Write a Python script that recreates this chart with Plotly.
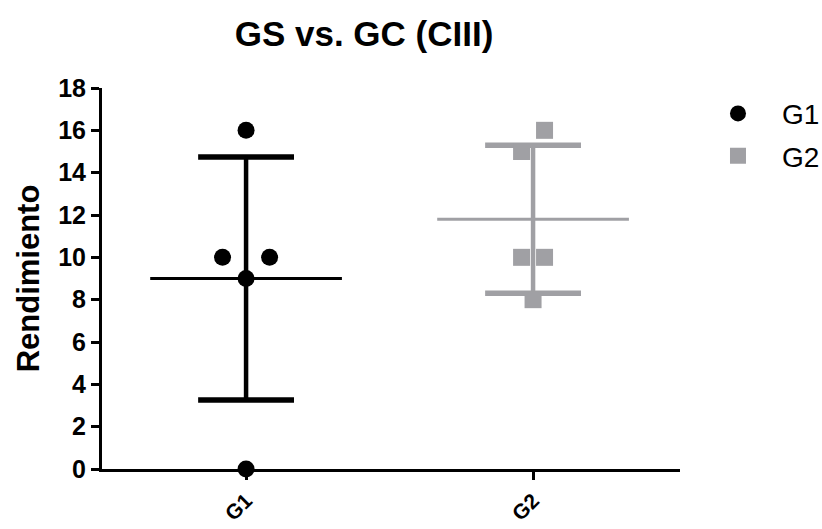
import numpy as np
import plotly.graph_objects as go

# ---- data ----
categories = ["G1", "G2"]
g1_values = [16, 10, 10, 9, 0]
g2_values = [16, 15, 10, 10, 8]
y_ticks = [0, 2, 4, 6, 8, 10, 12, 14, 16, 18]
title_text = "GS vs. GC (CIII)"
y_title = "Rendimiento"

# ---- style ----
FONT = "Liberation Sans, Arial, Helvetica, sans-serif"
colors = ["#000000", "#A0A0A4"]
symbols = ["circle", "square"]
# horizontal scatter offsets (style / layout only)
offsets = [
    [0.0, -0.082, 0.082, 0.0, 0.0],
    [0.04, -0.04, -0.04, 0.04, 0.0],
]
mean_half = 0.334
cap_half = 0.167

series = [g1_values, g2_values]

fig = go.Figure()

for i, (name, vals) in enumerate(zip(categories, series)):
    v = np.array(vals, dtype=float)
    m = v.mean()
    sd = v.std(ddof=1)
    col = colors[i]
    fig.add_trace(go.Scatter(x=[i, i], y=[m - sd, m + sd], mode="lines",
                             line=dict(color=col, width=4.5), showlegend=False,
                             hoverinfo="skip", cliponaxis=False))
    for yv in (m - sd, m + sd):
        fig.add_trace(go.Scatter(x=[i - cap_half, i + cap_half], y=[yv, yv], mode="lines",
                                 line=dict(color=col, width=5.5), showlegend=False,
                                 hoverinfo="skip", cliponaxis=False))
    fig.add_trace(go.Scatter(x=[i - mean_half, i + mean_half], y=[m, m], mode="lines",
                             line=dict(color=col, width=3), showlegend=False,
                             hoverinfo="skip", cliponaxis=False))

for i, (name, vals) in enumerate(zip(categories, series)):
    xs = [i + o for o in offsets[i]]
    fig.add_trace(go.Scatter(x=xs, y=vals, mode="markers", name=name, legendgroup=name,
                             marker=dict(color=colors[i], symbol=symbols[i], size=17,
                                         line=dict(width=0)),
                             cliponaxis=False))

fig.update_layout(
    width=822, height=529,
    margin=dict(l=102, r=142, t=88, b=60, autoexpand=False),
    paper_bgcolor="white", plot_bgcolor="white",
    font=dict(family=FONT, color="black"),
    title=dict(text="<b>" + title_text + "</b>", x=(364 / 822), xanchor="center",
               y=1 - 34 / 529, yanchor="middle", font=dict(size=35, family=FONT, color="black")),
    showlegend=True,
    legend=dict(x=1.0242, xanchor="left", y=0.998, yanchor="top",
                font=dict(size=28, family=FONT, color="black"),
                bgcolor="rgba(0,0,0,0)", tracegroupgap=3, itemwidth=78),
)

fig.update_xaxes(
    range=[-0.502, 1.512], tickvals=list(range(len(categories))),
    ticktext=["<b>" + c + "</b>" for c in categories],
    tickangle=-45, tickfont=dict(size=21, family=FONT, color="black"),
    showline=True, linecolor="black", linewidth=3,
    ticks="outside", ticklen=8, tickwidth=3, tickcolor="black",
    showgrid=False, zeroline=False, automargin=False,
)
fig.update_yaxes(
    range=[0, 18], tickvals=y_ticks, ticktext=["<b>%d</b>" % t for t in y_ticks],
    tickfont=dict(size=25, family=FONT, color="black"),
    title=dict(text="<b>" + y_title + "</b>", font=dict(size=31, family=FONT, color="black"),
               standoff=10),
    showline=True, linecolor="black", linewidth=3,
    ticks="outside", ticklen=8, tickwidth=3, tickcolor="black",
    showgrid=False, zeroline=False, automargin=False,
)

fig.write_html("out.html")
